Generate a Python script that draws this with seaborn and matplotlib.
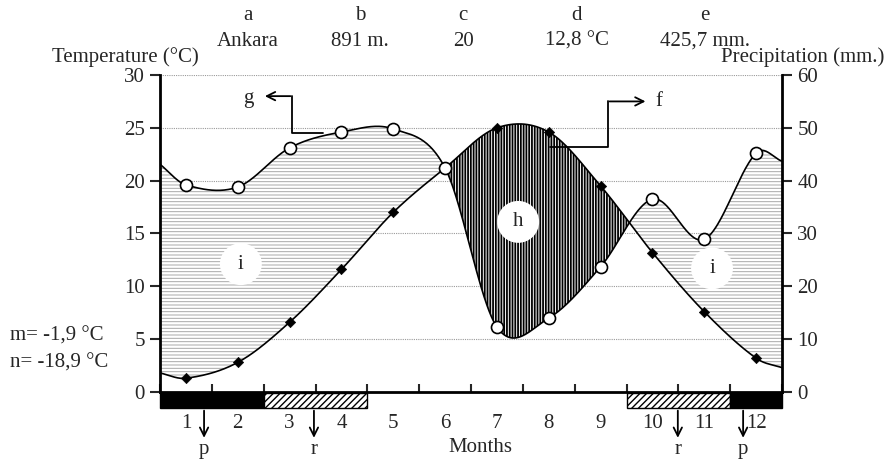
import numpy as np
import pandas as pd
import seaborn as sns
import matplotlib
matplotlib.use("Agg")
import matplotlib.pyplot as plt

## Data
months = np.arange(1, 13)
temp_c = [1.3, 2.8, 6.6, 11.6, 17.0, 21.2, 25.0, 24.6, 19.5, 13.2, 7.6, 3.2]
precip_mm = [39.2, 38.8, 46.2, 49.2, 49.8, 42.4, 12.3, 14.0, 23.7, 36.5, 28.9, 45.2]
# where the smoothed curves meet the two side axes
temp_edges = [1.8, 2.3]
precip_edges = [43.1, 43.7]

# frost bars under the axis: start month boundary, end boundary, type
period_start = [0, 2, 9, 11]
period_end = [2, 4, 11, 12]
period_kind = ["sure", "probable", "probable", "sure"]
arrow_x = [0.85, 2.97, 9.99, 11.25]
arrow_labels = ["p", "r", "r", "p"]

header_keys = ["a", "b", "c", "d", "e"]
header_values = ["Ankara", "891 m.", "20", "12,8 °C", "425,7 mm."]
header_x = [248, 360, 463, 577, 705]

sns.set_style("white")
plt.rcParams["font.family"] = ["Liberation Serif", "DejaVu Serif"]
fs = 15


def smooth(x, y, n=600):
    # cubic hermite with catmull-rom tangents (like a "smoothed line")
    x = np.asarray(x, float)
    y = np.asarray(y, float)
    m = np.empty_like(y)
    m[1:-1] = (y[2:] - y[:-2]) / (x[2:] - x[:-2])
    m[0] = (y[1] - y[0]) / (x[1] - x[0])
    m[-1] = (y[-1] - y[-2]) / (x[-1] - x[-2])
    xs = np.linspace(x[0], x[-1], n)
    i = np.clip(np.searchsorted(x, xs) - 1, 0, len(x) - 2)
    h = x[i + 1] - x[i]
    t = (xs - x[i]) / h
    ys = ((2 * t**3 - 3 * t**2 + 1) * y[i] + (t**3 - 2 * t**2 + t) * h * m[i]
          + (-2 * t**3 + 3 * t**2) * y[i + 1] + (t**3 - t**2) * h * m[i + 1])
    return xs, ys


xpos = months - 0.5
xk = np.concatenate([[0], xpos, [12]])
xs, ts = smooth(xk, np.concatenate([[temp_edges[0]], temp_c, [temp_edges[1]]]))
_, ps = smooth(xk, np.concatenate([[precip_edges[0]], precip_mm, [precip_edges[1]]]))
ps = ps / 2  # Walter-Lieth scale: 10 mm = 5 degC

df_t = pd.DataFrame({"x": xpos, "t": temp_c})
df_p = pd.DataFrame({"x": xpos, "p": np.array(precip_mm) / 2})

fig = plt.figure(figsize=(8.89, 4.61), dpi=100)
ax = fig.add_axes([160 / 889, 1 - 392 / 461, 622 / 889, 317 / 461])
ax.set_xlim(0, 12)
ax.set_ylim(0, 30)

ax.hlines(np.arange(5, 31, 5), 0, 12, colors="#9a9a9a", linestyles=(0, (1, 1)), lw=0.8, zorder=1)

plt.rcParams["hatch.linewidth"] = 0.7
wet = ax.fill_between(xs, ts, ps, where=ps >= ts, interpolate=True, facecolor="white",
                      edgecolor="#a8a8a8", hatch="-----", linewidth=0, zorder=2)
plt.rcParams["hatch.linewidth"] = 1.3
dry = ax.fill_between(xs, ts, ps, where=ps < ts, interpolate=True, facecolor="white",
                      edgecolor="black", hatch="||||||", linewidth=0, zorder=2)
if hasattr(wet, "set_hatch_linewidth"):
    wet.set_hatch_linewidth(0.7)
    dry.set_hatch_linewidth(1.3)

ax.plot(xs, ts, color="black", lw=1.2, zorder=3)
ax.plot(xs, ps, color="black", lw=1.2, zorder=3)
sns.scatterplot(data=df_t, x="x", y="t", ax=ax, marker="D", s=28, color="black",
                edgecolor="black", zorder=4, legend=False)
sns.scatterplot(data=df_p, x="x", y="p", ax=ax, marker="o", s=75, color="white",
                edgecolor="black", linewidth=1.2, zorder=5, legend=False)

# letters in white circles
for lx, ly, lab in [(1.56, 12.1, "i"), (6.91, 16.1, "h"), (10.65, 11.7, "i")]:
    ax.text(lx, ly, lab, fontsize=fs, ha="center", va="center", zorder=6,
            bbox=dict(boxstyle="circle,pad=0.55", fc="white", ec="none"))

arrow_kw = dict(arrowstyle="->", lw=1.3, color="black", mutation_scale=15)

# g and f pointers
ax.plot([3.14, 2.55, 2.55], [24.5, 24.5, 28.0], color="black", lw=1.3, zorder=6, clip_on=False)
ax.annotate("", xy=(1.97, 28.0), xytext=(2.57, 28.0), arrowprops=arrow_kw, zorder=6)
ax.text(1.70, 27.8, "g", fontsize=fs, ha="center", va="center")
ax.plot([7.52, 8.64, 8.64], [23.2, 23.2, 27.5], color="black", lw=1.3, zorder=6, clip_on=False)
ax.annotate("", xy=(9.42, 27.5), xytext=(8.62, 27.5), arrowprops=arrow_kw, zorder=6)
ax.text(9.62, 27.5, "f", fontsize=fs, ha="center", va="center")

# frost bars below axis
for s, e, k in zip(period_start, period_end, period_kind):
    b = ax.bar(x=s, height=1.4, width=e - s, bottom=-1.5, align="edge", clip_on=False, zorder=5,
               color="black" if k == "sure" else "white", edgecolor="black", lw=1,
               hatch=None if k == "sure" else "/////")
    if hasattr(b[0], "set_hatch_linewidth"):
        b[0].set_hatch_linewidth(1.0)

for axx, lab in zip(arrow_x, arrow_labels):
    ax.annotate("", xy=(axx, -4.6), xytext=(axx, -1.5), annotation_clip=False,
                arrowprops=arrow_kw)
    ax.text(axx, -5.45, lab, fontsize=fs, ha="center", va="center", clip_on=False)

# axes styling
ax.spines["top"].set_visible(False)
ax.spines["right"].set_visible(False)
for sp in ["left", "bottom"]:
    ax.spines[sp].set_linewidth(2)
    ax.spines[sp].set_color("black")
ax.set_yticks(np.arange(0, 31, 5))
ax.tick_params(axis="y", direction="out", length=7, width=1.5, labelsize=fs, pad=4, left=True)
ax.set_xticks(xpos, labels=[str(m) for m in months])
ax.set_xticks(np.arange(0, 13), minor=True)
ax.tick_params(axis="x", which="major", length=0, labelsize=fs, pad=16, bottom=True)
ax.tick_params(axis="x", which="minor", direction="in", length=6, width=1.5, bottom=True)
ax.set_xlabel("")
ax.set_ylabel("")

ax2 = ax.twinx()
ax2.set_ylim(0, 60)
ax2.set_yticks(np.arange(0, 61, 10))
for sp in ["top", "left", "bottom"]:
    ax2.spines[sp].set_visible(False)
ax2.spines["right"].set_linewidth(2)
ax2.spines["right"].set_color("black")
ax2.tick_params(axis="y", direction="out", length=7, width=1.5, labelsize=fs, pad=4, right=True)

# header texts
for k, v, hx in zip(header_keys, header_values, header_x):
    fig.text(hx / 889, 1 - 15 / 461, k, fontsize=fs, ha="center", va="center")
    fig.text(hx / 889, 1 - 41 / 461, v, fontsize=fs, ha="center", va="center")
fig.text(125 / 889, 1 - 57 / 461, "Temperature (°C)", fontsize=fs, ha="center", va="center")
fig.text(803 / 889, 1 - 57 / 461, "Precipitation (mm.)", fontsize=fs, ha="center", va="center")
fig.text(480 / 889, 1 - 447 / 461, "Months", fontsize=fs, ha="center", va="center")
fig.text(10 / 889, 1 - 336 / 461, "m= -1,9 °C", fontsize=fs, ha="left", va="center")
fig.text(10 / 889, 1 - 363 / 461, "n= -18,9 °C", fontsize=fs, ha="left", va="center")

fig.savefig("out.png", dpi=100)
